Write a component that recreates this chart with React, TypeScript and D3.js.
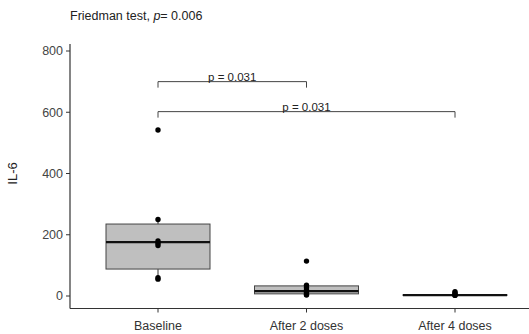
import React from "react";
import * as d3 from "d3";

const categories = ["Baseline", "After 2 doses", "After 4 doses"];
const q1 = [88, 7, 2];
const medians = [176, 16, 3];
const q3 = [235, 33, 4];
const whiskerLow = [55, 2, 1];
const whiskerHigh = [250, 35, 6];
const points = [
  [542, 250, 180, 172, 165, 60, 55],
  [114, 35, 28, 20, 12, 6, 3],
  [14, 10, 6, 3, 2],
];
const yTicks = [0, 200, 400, 600, 800];
const comparisons = [
  { from: 0, to: 1, label: "p = 0.031", y: 700 },
  { from: 0, to: 2, label: "p = 0.031", y: 602 },
];

export default function App() {
  const W = 529, H = 334;
  const x = d3.scalePoint().domain(categories).range([158, 455]);
  const y = d3.scaleLinear().domain([0, 800]).range([296, 51]);
  const bw = 104;
  const cx = (i: number) => x(categories[i]) as number;
  const font = "Liberation Sans, Arial, sans-serif";
  return (
    <svg width={W} height={H} style={{ position: "absolute", left: 0, top: 0 }} fontFamily={font}>
      <rect width={W} height={H} fill="white" />
      <text x={70} y={20} fontSize={12.5} fill="#222">
        Friedman test, <tspan fontStyle="italic">p</tspan>= 0.006
      </text>
      {/* axes */}
      <line x1={70} x2={70} y1={44} y2={308.5} stroke="#333" strokeWidth={1.2} />
      <line x1={70} x2={529} y1={308.5} y2={308.5} stroke="#333" strokeWidth={1.2} />
      {yTicks.map((t) => (
        <g key={t}>
          <line x1={66} x2={70} y1={y(t)} y2={y(t)} stroke="#333" />
          <text x={63} y={y(t)} dy="0.35em" textAnchor="end" fontSize={12.5} fill="#444">{t}</text>
        </g>
      ))}
      <text transform={`translate(17,${y(400)}) rotate(-90)`} textAnchor="middle" fontSize={13} fill="#222">IL-6</text>
      {categories.map((c, i) => (
        <g key={c}>
          <line x1={cx(i)} x2={cx(i)} y1={308.5} y2={312.5} stroke="#333" />
          <text x={cx(i)} y={326} dy="0.35em" textAnchor="middle" fontSize={12.5} fill="#333">{c}</text>
        </g>
      ))}
      {/* boxes */}
      {categories.map((c, i) => (
        <g key={c}>
          <line x1={cx(i)} x2={cx(i)} y1={y(whiskerHigh[i])} y2={y(q3[i])} stroke="#333" />
          <line x1={cx(i)} x2={cx(i)} y1={y(q1[i])} y2={y(whiskerLow[i])} stroke="#333" />
          <rect x={cx(i) - bw / 2} width={bw} y={y(q3[i])} height={Math.max(y(q1[i]) - y(q3[i]), 0.5)} fill="#bfbfbf" stroke="#444" strokeWidth={1} />
          <line x1={cx(i) - bw / 2} x2={cx(i) + bw / 2} y1={y(medians[i])} y2={y(medians[i])} stroke="#111" strokeWidth={2.2} />
          {points[i].map((v, j) => (
            <circle key={j} cx={cx(i)} cy={y(v)} r={2.7} fill="#000" />
          ))}
        </g>
      ))}
      {/* brackets */}
      {comparisons.map((cmp, k) => {
        const yy = y(cmp.y);
        const x1 = cx(cmp.from), x2 = cx(cmp.to);
        return (
          <g key={k}>
            <path d={`M${x1},${yy + 6}V${yy}H${x2}V${yy + 6}`} fill="none" stroke="#444" strokeWidth={1} />
            <text x={(x1 + x2) / 2} y={yy - 1} textAnchor="middle" fontSize={11.5} fill="#222">{cmp.label}</text>
          </g>
        );
      })}
    </svg>
  );
}
